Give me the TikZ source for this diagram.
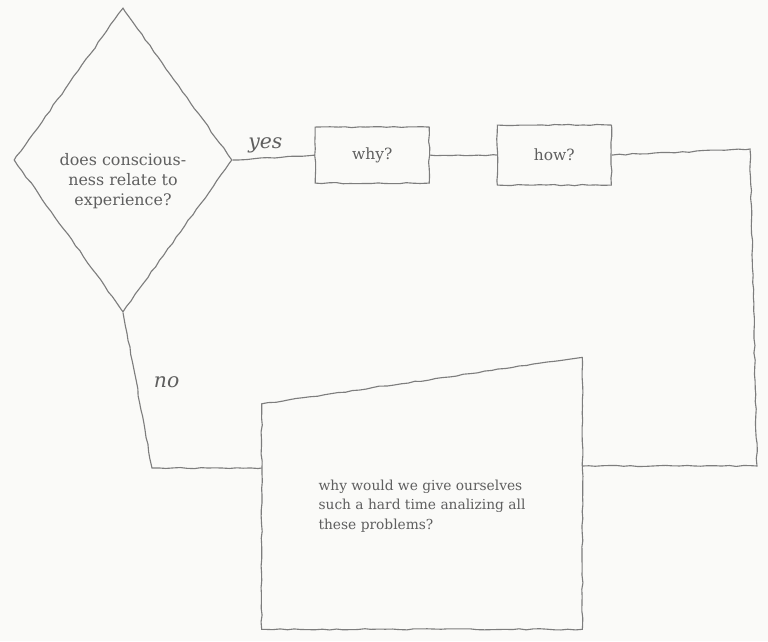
\documentclass[tikz,border=0pt]{standalone}
\usepackage{fontspec}
\setmainfont{DejaVu Serif}
\usetikzlibrary{positioning,shapes.geometric,decorations.pathmorphing}
\definecolor{pencil}{RGB}{125,125,125}
\definecolor{inkgray}{RGB}{95,95,95}
\definecolor{paper}{RGB}{250,250,248}

\begin{document}
\begin{tikzpicture}[
    x=0.025cm, y=-0.025cm,
    node distance=1.8cm,
    sketch/.style={draw=pencil,line width=0.8pt,decorate,
                   decoration={random steps,segment length=5pt,amplitude=0.45pt}},
    question/.style={diamond,sketch,minimum width=5.45cm,minimum height=7.6cm,
                     inner sep=0pt},
    qtext/.style={align=center,font=\fontsize{11.3}{14.2}\selectfont,text=inkgray},
    box/.style={rectangle,sketch,minimum width=2.85cm,minimum height=1.4cm,
                font=\fontsize{11}{13}\selectfont,text=inkgray},
    answer/.style={font=\itshape\fontsize{14.5}{16}\selectfont,text=inkgray},
    link/.style={sketch}
]
    \fill[paper] (0,0) rectangle (768,641);
    \useasboundingbox (0,0) rectangle (768,641);
    \node[question] (q) at (123,160) {};
    \node[qtext] (qt) at ([yshift=-15pt]q.center) {does conscious-\\ness relate to\\experience?};
    \node[box,right=2.05cm of q,yshift=3.5pt] (why) {why?};
    \node[box,right=1.675cm of why,minimum height=1.5cm] (how) {how?};
    \node[align=left,minimum width=8cm,minimum height=6.15cm,
          font=\fontsize{9.8}{14}\selectfont,text=inkgray] (end) at (422,506)
          {why would we give ourselves\\such a hard time analizing all\\these problems?};
    \draw[sketch] (end.south west) -- ([yshift=-15pt]end.north west)
        -- ([yshift=18pt]end.north east) -- (end.south east) -- cycle;
    \coordinate (ne) at (750,149);
    \coordinate (se) at (757,466);
    \coordinate (sw) at (152,468);
    \draw[link] (q.east) -- node[answer,above,pos=0.4] (yes) {yes} (why.west);
    \draw[link] (why) -- (how);
    \draw[link] (how.east) -- (ne) -- (se) -- (se -| end.east);
    \draw[link] (q.south) -- node[answer,right,pos=0.45,xshift=9pt] (no) {no} (sw) -- (sw -| end.west);
\end{tikzpicture}
\end{document}
